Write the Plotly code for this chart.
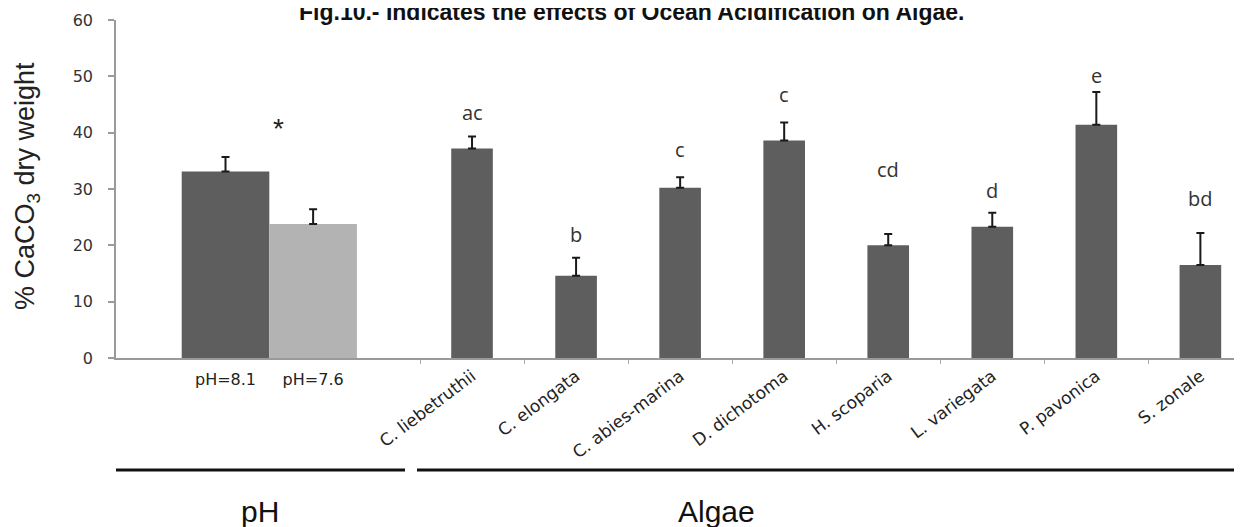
import plotly.graph_objects as go

# ---- data ----
ph_categories = ["pH=8.1", "pH=7.6"]
ph_values = [33.1, 23.8]
ph_errors = [2.6, 2.6]
ph_colors = ["#5e5e5e", "#b3b3b3"]

algae_categories = ["C. liebetruthii", "C. elongata", "C. abies-marina", "D. dichotoma",
                    "H. scoparia", "L. variegata", "P. pavonica", "S. zonale"]
algae_values = [37.2, 14.6, 30.2, 38.6, 20.0, 23.3, 41.4, 16.5]
algae_errors = [2.1, 3.2, 1.9, 3.2, 2.0, 2.5, 5.8, 5.7]
algae_letters = ["ac", "b", "c", "c", "cd", "d", "e", "bd"]
letter_heights = [43.5, 22.0, 37.0, 46.8, 33.4, 29.8, 50.2, 28.4]

y_ticks = [0, 10, 20, 30, 40, 50, 60]
title_text = "Fig.10.- Indicates the effects of Ocean Acidification on Algae."

# page body adds an 8px margin; size the figure so it fills the window
OFF = 8
W, H = 1242 - OFF, 527 - OFF
ML, MR, MT, MB = 116 - OFF, 0, 20 - OFF, 169
plot_w = W - ML - MR
plot_h = H - MT - MB


def px_x(p):
    return (p - OFF - ML) / plot_w


def px_y(p):
    return (H - MB - (p - OFF)) / plot_h


split = px_x(420)

fig = go.Figure()
fig.add_trace(go.Bar(
    x=ph_categories, y=ph_values, width=1.0,
    marker=dict(color=ph_colors, line=dict(width=0)),
    error_y=dict(type="data", array=ph_errors, arrayminus=[0] * len(ph_errors),
                 symmetric=False, color="#1a1a1a", thickness=2, width=4),
    xaxis="x", yaxis="y", showlegend=False,
))
fig.add_trace(go.Bar(
    x=algae_categories, y=algae_values, width=0.40,
    marker=dict(color="#5e5e5e", line=dict(width=0)),
    error_y=dict(type="data", array=algae_errors, arrayminus=[0] * len(algae_errors),
                 symmetric=False, color="#1a1a1a", thickness=2, width=4),
    xaxis="x2", yaxis="y", showlegend=False,
))

annotations = []
for cat, lab, hy in zip(algae_categories, algae_letters, letter_heights):
    annotations.append(dict(x=cat, y=hy, xref="x2", yref="y", text=lab, showarrow=False,
                            font=dict(family="Open Sans", size=20, color="#333333"),
                            xanchor="center", yanchor="middle"))
annotations.append(dict(x=0.5, y=40.8, xref="x", yref="y", text="*", showarrow=False, xshift=9,
                        font=dict(family="Liberation Sans", size=28, color="#222222"),
                        xanchor="center", yanchor="middle"))
annotations.append(dict(x=px_x(631), y=px_y(12), xref="paper", yref="paper", text="<b>" + title_text + "</b>",
                        showarrow=False, font=dict(family="Liberation Sans", size=23, color="#111111"),
                        xanchor="center", yanchor="middle"))
annotations.append(dict(x=px_x(27), y=px_y(186), xref="paper", yref="paper",
                        text="% CaCO<sub>3</sub> dry weight", textangle=-90, showarrow=False,
                        font=dict(family="Liberation Sans", size=27, color="#222222"),
                        xanchor="center", yanchor="middle"))
annotations.append(dict(x=px_x(260), y=px_y(511), xref="paper", yref="paper", text="pH", showarrow=False,
                        font=dict(family="Liberation Sans", size=30, color="#111111"),
                        xanchor="center", yanchor="middle"))
annotations.append(dict(x=px_x(716), y=px_y(511), xref="paper", yref="paper", text="Algae", showarrow=False,
                        font=dict(family="Liberation Sans", size=30, color="#111111"),
                        xanchor="center", yanchor="middle"))

shapes = [
    dict(type="line", xref="paper", yref="paper", x0=px_x(116), x1=px_x(405), y0=px_y(470), y1=px_y(470),
         line=dict(color="#111111", width=3)),
    dict(type="line", xref="paper", yref="paper", x0=px_x(417), x1=1.0, y0=px_y(470), y1=px_y(470),
         line=dict(color="#111111", width=3)),
]

fig.update_layout(
    width=W, height=H,
    margin=dict(l=ML, r=MR, t=MT, b=MB, pad=0),
    paper_bgcolor="white", plot_bgcolor="white",
    showlegend=False,
    xaxis=dict(domain=[0, split], range=[-1.25, 2.22], type="category", anchor="y",
               showline=True, linecolor="#9a9a9a", linewidth=1.5, ticks="", showgrid=False,
               tickfont=dict(family="DejaVu Sans", size=16, color="#222222"), ticklabelstandoff=6),
    xaxis2=dict(domain=[split, 1], range=[-0.5, 7.4], type="category", anchor="y",
                showline=True, linecolor="#9a9a9a", linewidth=1.5, showgrid=False,
                ticks="outside", tickson="boundaries", ticklen=4, tickcolor="#aaaaaa", tickwidth=1,
                tickangle=-37, tickfont=dict(family="DejaVu Sans", size=17, color="#222222")),
    yaxis=dict(range=[0, 60], tickvals=y_ticks, showgrid=False, zeroline=False,
               showline=True, linecolor="#9a9a9a", linewidth=1.5,
               ticks="outside", ticklen=6, tickcolor="#9a9a9a", tickwidth=1.5,
               tickfont=dict(family="DejaVu Sans", size=16, color="#333333"), ticklabelstandoff=12),
    annotations=annotations,
    shapes=shapes,
)

fig.write_html("out.html")
